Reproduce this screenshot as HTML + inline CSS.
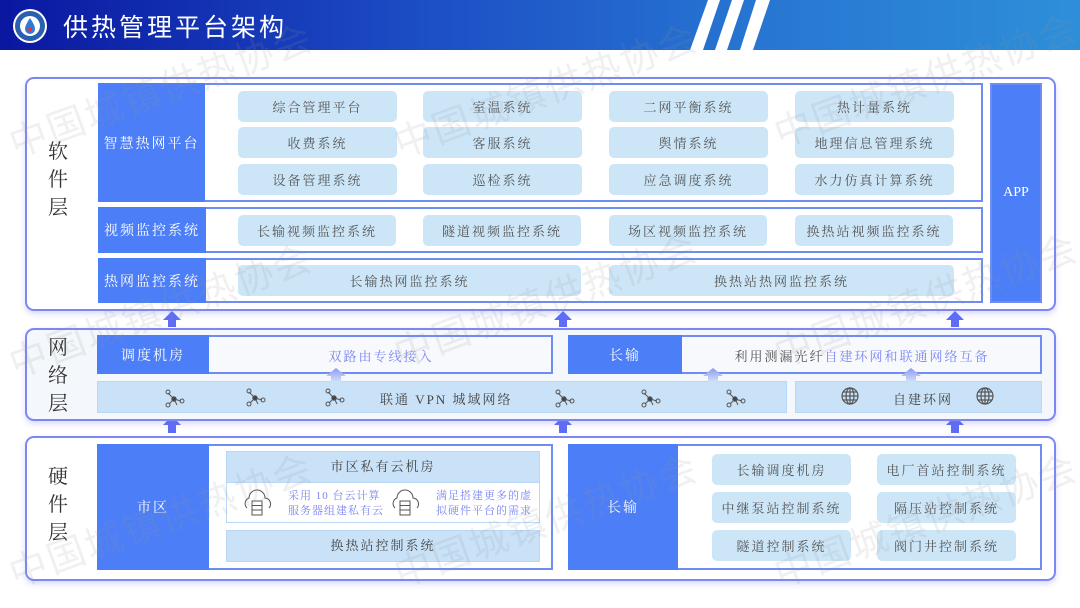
<!DOCTYPE html>
<html><head><meta charset="utf-8"><style>
*{margin:0;padding:0;box-sizing:border-box}
body{width:1080px;height:608px;position:relative;overflow:hidden;background:#fff;font-family:"Liberation Serif","Noto Serif CJK SC",serif}
.a{position:absolute}
.hdr{left:0;top:0;width:1080px;height:50px;background:linear-gradient(90deg,#0a17a0 0%,#1d4fc6 40%,#2776d2 70%,#2e8fd9 100%)}
.title{left:63px;top:8px;color:#fff;font-size:25px;letter-spacing:3px;font-family:"Liberation Sans","Noto Sans CJK SC",sans-serif}
.outer{border:2px solid #7d87f4;border-radius:9px;box-shadow:0 3px 6px rgba(110,110,240,.25)}
.lay{font-size:20px;color:#333;line-height:28px;width:26px;text-align:center}
.box{border:2px solid #6f8cf2;background:#fff}
.lbl{background:#4c7ef7;color:#fff;font-size:14px;display:flex;align-items:center;justify-content:center;letter-spacing:2px}
.pill{background:#cce6f8;border-radius:5px;color:#555;font-size:13px;display:flex;align-items:center;justify-content:center;letter-spacing:2px}
.wm{color:rgba(150,150,150,.14);font-size:38px;transform:rotate(-20deg);white-space:nowrap;letter-spacing:2px;font-family:"Liberation Sans","Noto Sans CJK SC",sans-serif}
.bar{background:#c9e2f7;border:1px solid #b9d8f5;color:#444;font-size:13px;letter-spacing:2px}
</style></head><body>
<div class="a hdr"></div>
<svg class="a" style="left:660px;top:0" width="110" height="50"><polygon points="48,0 60,0 43,50 30,50" fill="#fff"/><polygon points="72,0 84,0 67,50 55,50" fill="#fff"/><polygon points="96,0 110,0 93,50 80,50" fill="#fff"/></svg>
<svg class="a" style="left:12px;top:8px" width="36" height="36"><circle cx="18" cy="18" r="17" fill="#fff"/><circle cx="18" cy="18" r="15" fill="#2b5fb0"/><circle cx="18" cy="18" r="10" fill="#fff"/><path d="M18 10 C14 16 13 19 13 21 A5 5 0 0 0 23 21 C23 19 22 16 18 10Z" fill="#2f7ad6"/><circle cx="18" cy="21" r="2" fill="#e33"/></svg>
<div class="a title">供热管理平台架构</div>

<div class="a outer" style="left:25px;top:77px;width:1031px;height:234px"></div>
<div class="a lay" style="left:45px;top:138px">软<br>件<br>层</div>
<div class="a box" style="left:98px;top:83px;width:885px;height:119px"></div>
<div class="a lbl" style="left:98px;top:83px;width:107px;height:119px">智慧热网平台</div>
<div class="a pill" style="left:238px;top:91px;width:159px;height:31px">综合管理平台</div>
<div class="a pill" style="left:423px;top:91px;width:159px;height:31px">室温系统</div>
<div class="a pill" style="left:609px;top:91px;width:159px;height:31px">二网平衡系统</div>
<div class="a pill" style="left:795px;top:91px;width:159px;height:31px">热计量系统</div>
<div class="a pill" style="left:238px;top:127px;width:159px;height:31px">收费系统</div>
<div class="a pill" style="left:423px;top:127px;width:159px;height:31px">客服系统</div>
<div class="a pill" style="left:609px;top:127px;width:159px;height:31px">舆情系统</div>
<div class="a pill" style="left:795px;top:127px;width:159px;height:31px">地理信息管理系统</div>
<div class="a pill" style="left:238px;top:164px;width:159px;height:31px">设备管理系统</div>
<div class="a pill" style="left:423px;top:164px;width:159px;height:31px">巡检系统</div>
<div class="a pill" style="left:609px;top:164px;width:159px;height:31px">应急调度系统</div>
<div class="a pill" style="left:795px;top:164px;width:159px;height:31px">水力仿真计算系统</div>

<div class="a box" style="left:98px;top:207px;width:885px;height:46px"></div>
<div class="a lbl" style="left:98px;top:207px;width:108px;height:46px">视频监控系统</div>
<div class="a pill" style="left:238px;top:215px;width:158px;height:31px">长输视频监控系统</div>
<div class="a pill" style="left:423px;top:215px;width:158px;height:31px">隧道视频监控系统</div>
<div class="a pill" style="left:609px;top:215px;width:158px;height:31px">场区视频监控系统</div>
<div class="a pill" style="left:795px;top:215px;width:158px;height:31px">换热站视频监控系统</div>

<div class="a box" style="left:98px;top:258px;width:885px;height:45px"></div>
<div class="a lbl" style="left:98px;top:258px;width:108px;height:45px">热网监控系统</div>
<div class="a pill" style="left:238px;top:265px;width:343px;height:31px">长输热网监控系统</div>
<div class="a pill" style="left:609px;top:265px;width:345px;height:31px">换热站热网监控系统</div>

<div class="a lbl" style="left:990px;top:83px;width:52px;height:220px;font-size:14px;letter-spacing:0;border:2px solid #6f8cf2">APP</div>

<svg class="a" style="left:0;top:0" width="1080" height="608">
<g fill="#5f6cf6">
<polygon points="163,320 172,311 181,320 176,320 176,327 168,327 168,320"/>
<polygon points="554,320 563,311 572,320 567,320 567,327 559,327 559,320"/>
<polygon points="946,320 955,311 964,320 959,320 959,327 951,327 951,320"/>
<polygon points="163,425 172,416 181,425 176,425 176,433 168,433 168,425"/>
<polygon points="554,425 563,416 572,425 567,425 567,433 559,433 559,425"/>
<polygon points="946,425 955,416 964,425 959,425 959,433 951,433 951,425"/>
</g>
</svg>

<div class="a outer" style="left:25px;top:328px;width:1031px;height:93px;background:#f4f7fb"></div>
<div class="a lay" style="left:45px;top:334px">网<br>络<br>层</div>
<div class="a box" style="left:97px;top:335px;width:456px;height:39px;background:#f7f9fd"></div>
<div class="a lbl" style="left:97px;top:335px;width:112px;height:39px">调度机房</div>
<div class="a" style="left:209px;top:346px;width:344px;text-align:center;color:#7b86f0;font-size:13px;letter-spacing:2px">双路由专线接入</div>
<div class="a box" style="left:568px;top:335px;width:474px;height:39px;background:#f7f9fd"></div>
<div class="a lbl" style="left:568px;top:335px;width:114px;height:39px">长输</div>
<div class="a" style="left:682px;top:346px;width:360px;text-align:center;color:#555;font-size:13px;letter-spacing:2px">利用测漏光纤<span style="color:#7b86f0">自建环网和联通网络互备</span></div>
<div class="a bar" style="left:97px;top:381px;width:690px;height:32px"></div>
<div class="a" style="left:380px;top:389px;color:#444;font-size:13px;letter-spacing:2px">联通 VPN 城域网络</div>
<div class="a bar" style="left:795px;top:381px;width:247px;height:32px"></div>
<div class="a" style="left:893px;top:389px;color:#444;font-size:13px;letter-spacing:2px">自建环网</div>
<svg class="a" style="left:0;top:0" width="1080" height="608">
<defs><g id="n" stroke="#555" stroke-width="1" fill="none"><line x1="0" y1="0" x2="-6" y2="-6"/><line x1="0" y1="0" x2="7" y2="2"/><line x1="0" y1="0" x2="-5" y2="5"/><line x1="0" y1="0" x2="3" y2="6"/><circle cx="-6" cy="-7" r="2"/><circle cx="8" cy="2" r="2"/><circle cx="-6" cy="6" r="2"/><circle cx="0" cy="0" r="2.2" fill="#444"/></g>
<g id="gl" stroke="#555" stroke-width="1.2" fill="none"><circle r="8"/><ellipse rx="4" ry="8"/><line x1="-8" x2="8"/><line x1="-7" y1="-4" x2="7" y2="-4"/><line x1="-7" y1="4" x2="7" y2="4"/><line y1="-8" y2="8"/></g>
<linearGradient id="ug" x1="0" y1="0" x2="0" y2="1"><stop offset="0" stop-color="#8d98f5"/><stop offset="1" stop-color="#cfe3f8"/></linearGradient></defs>
<use href="#n" x="174" y="399"/><use href="#n" x="255" y="398"/><use href="#n" x="334" y="398"/>
<use href="#n" x="564" y="399"/><use href="#n" x="650" y="399"/><use href="#n" x="735" y="399"/>
<use href="#gl" x="850" y="396"/><use href="#gl" x="985" y="396"/>
<g fill="url(#ug)">
<polygon points="326,376 336,368 346,376 341,376 341,382 331,382 331,376"/>
<polygon points="703,376 713,368 723,376 718,376 718,382 708,382 708,376"/>
<polygon points="901,376 911,368 921,376 916,376 916,382 906,382 906,376"/>
</g>
</svg>

<div class="a outer" style="left:25px;top:436px;width:1031px;height:145px"></div>
<div class="a lay" style="left:45px;top:463px">硬<br>件<br>层</div>
<div class="a box" style="left:97px;top:444px;width:456px;height:126px"></div>
<div class="a lbl" style="left:97px;top:444px;width:112px;height:126px">市区</div>
<div class="a bar" style="left:226px;top:451px;width:314px;height:32px;text-align:center;line-height:30px">市区私有云机房</div>
<div class="a" style="left:226px;top:483px;width:314px;height:40px;border:1px solid #b9d8f5;border-top:none;background:#fff"></div>
<div class="a" style="left:288px;top:489px;color:#7b86f0;font-size:11px;line-height:15px;letter-spacing:1px">采用 10 台云计算<br>服务器组建私有云</div>
<div class="a" style="left:436px;top:489px;color:#7b86f0;font-size:11px;line-height:15px;letter-spacing:1px">满足搭建更多的虚<br>拟硬件平台的需求</div>
<svg class="a" style="left:0;top:0" width="1080" height="608">
<defs><g id="cl" stroke="#555" stroke-width="1" fill="#fff"><path d="M-10 6 A6 6 0 0 1 -8 -4 A8 8 0 0 1 8 -4 A6 6 0 0 1 12 6"/><rect x="-5" y="-1" width="10" height="14"/><line x1="-5" y1="3.5" x2="5" y2="3.5"/><line x1="-5" y1="8" x2="5" y2="8"/></g></defs>
<use href="#cl" x="257" y="502"/><use href="#cl" x="405" y="502"/>
</svg>
<div class="a bar" style="left:226px;top:530px;width:314px;height:32px;text-align:center;line-height:30px">换热站控制系统</div>

<div class="a box" style="left:568px;top:444px;width:474px;height:126px"></div>
<div class="a lbl" style="left:568px;top:444px;width:110px;height:126px">长输</div>
<div class="a pill" style="left:712px;top:454px;width:139px;height:31px">长输调度机房</div>
<div class="a pill" style="left:877px;top:454px;width:139px;height:31px">电厂首站控制系统</div>
<div class="a pill" style="left:712px;top:492px;width:139px;height:31px">中继泵站控制系统</div>
<div class="a pill" style="left:877px;top:492px;width:139px;height:31px">隔压站控制系统</div>
<div class="a pill" style="left:712px;top:530px;width:139px;height:31px">隧道控制系统</div>
<div class="a pill" style="left:877px;top:530px;width:139px;height:31px">阀门井控制系统</div>

<div class="a wm" style="left:0;top:60px">中国城镇供热协会</div>
<div class="a wm" style="left:385px;top:60px">中国城镇供热协会</div>
<div class="a wm" style="left:765px;top:50px">中国城镇供热协会</div>
<div class="a wm" style="left:0;top:280px">中国城镇供热协会</div>
<div class="a wm" style="left:385px;top:270px">中国城镇供热协会</div>
<div class="a wm" style="left:765px;top:270px">中国城镇供热协会</div>
<div class="a wm" style="left:0;top:490px">中国城镇供热协会</div>
<div class="a wm" style="left:385px;top:490px">中国城镇供热协会</div>
<div class="a wm" style="left:765px;top:490px">中国城镇供热协会</div>
</body></html>
